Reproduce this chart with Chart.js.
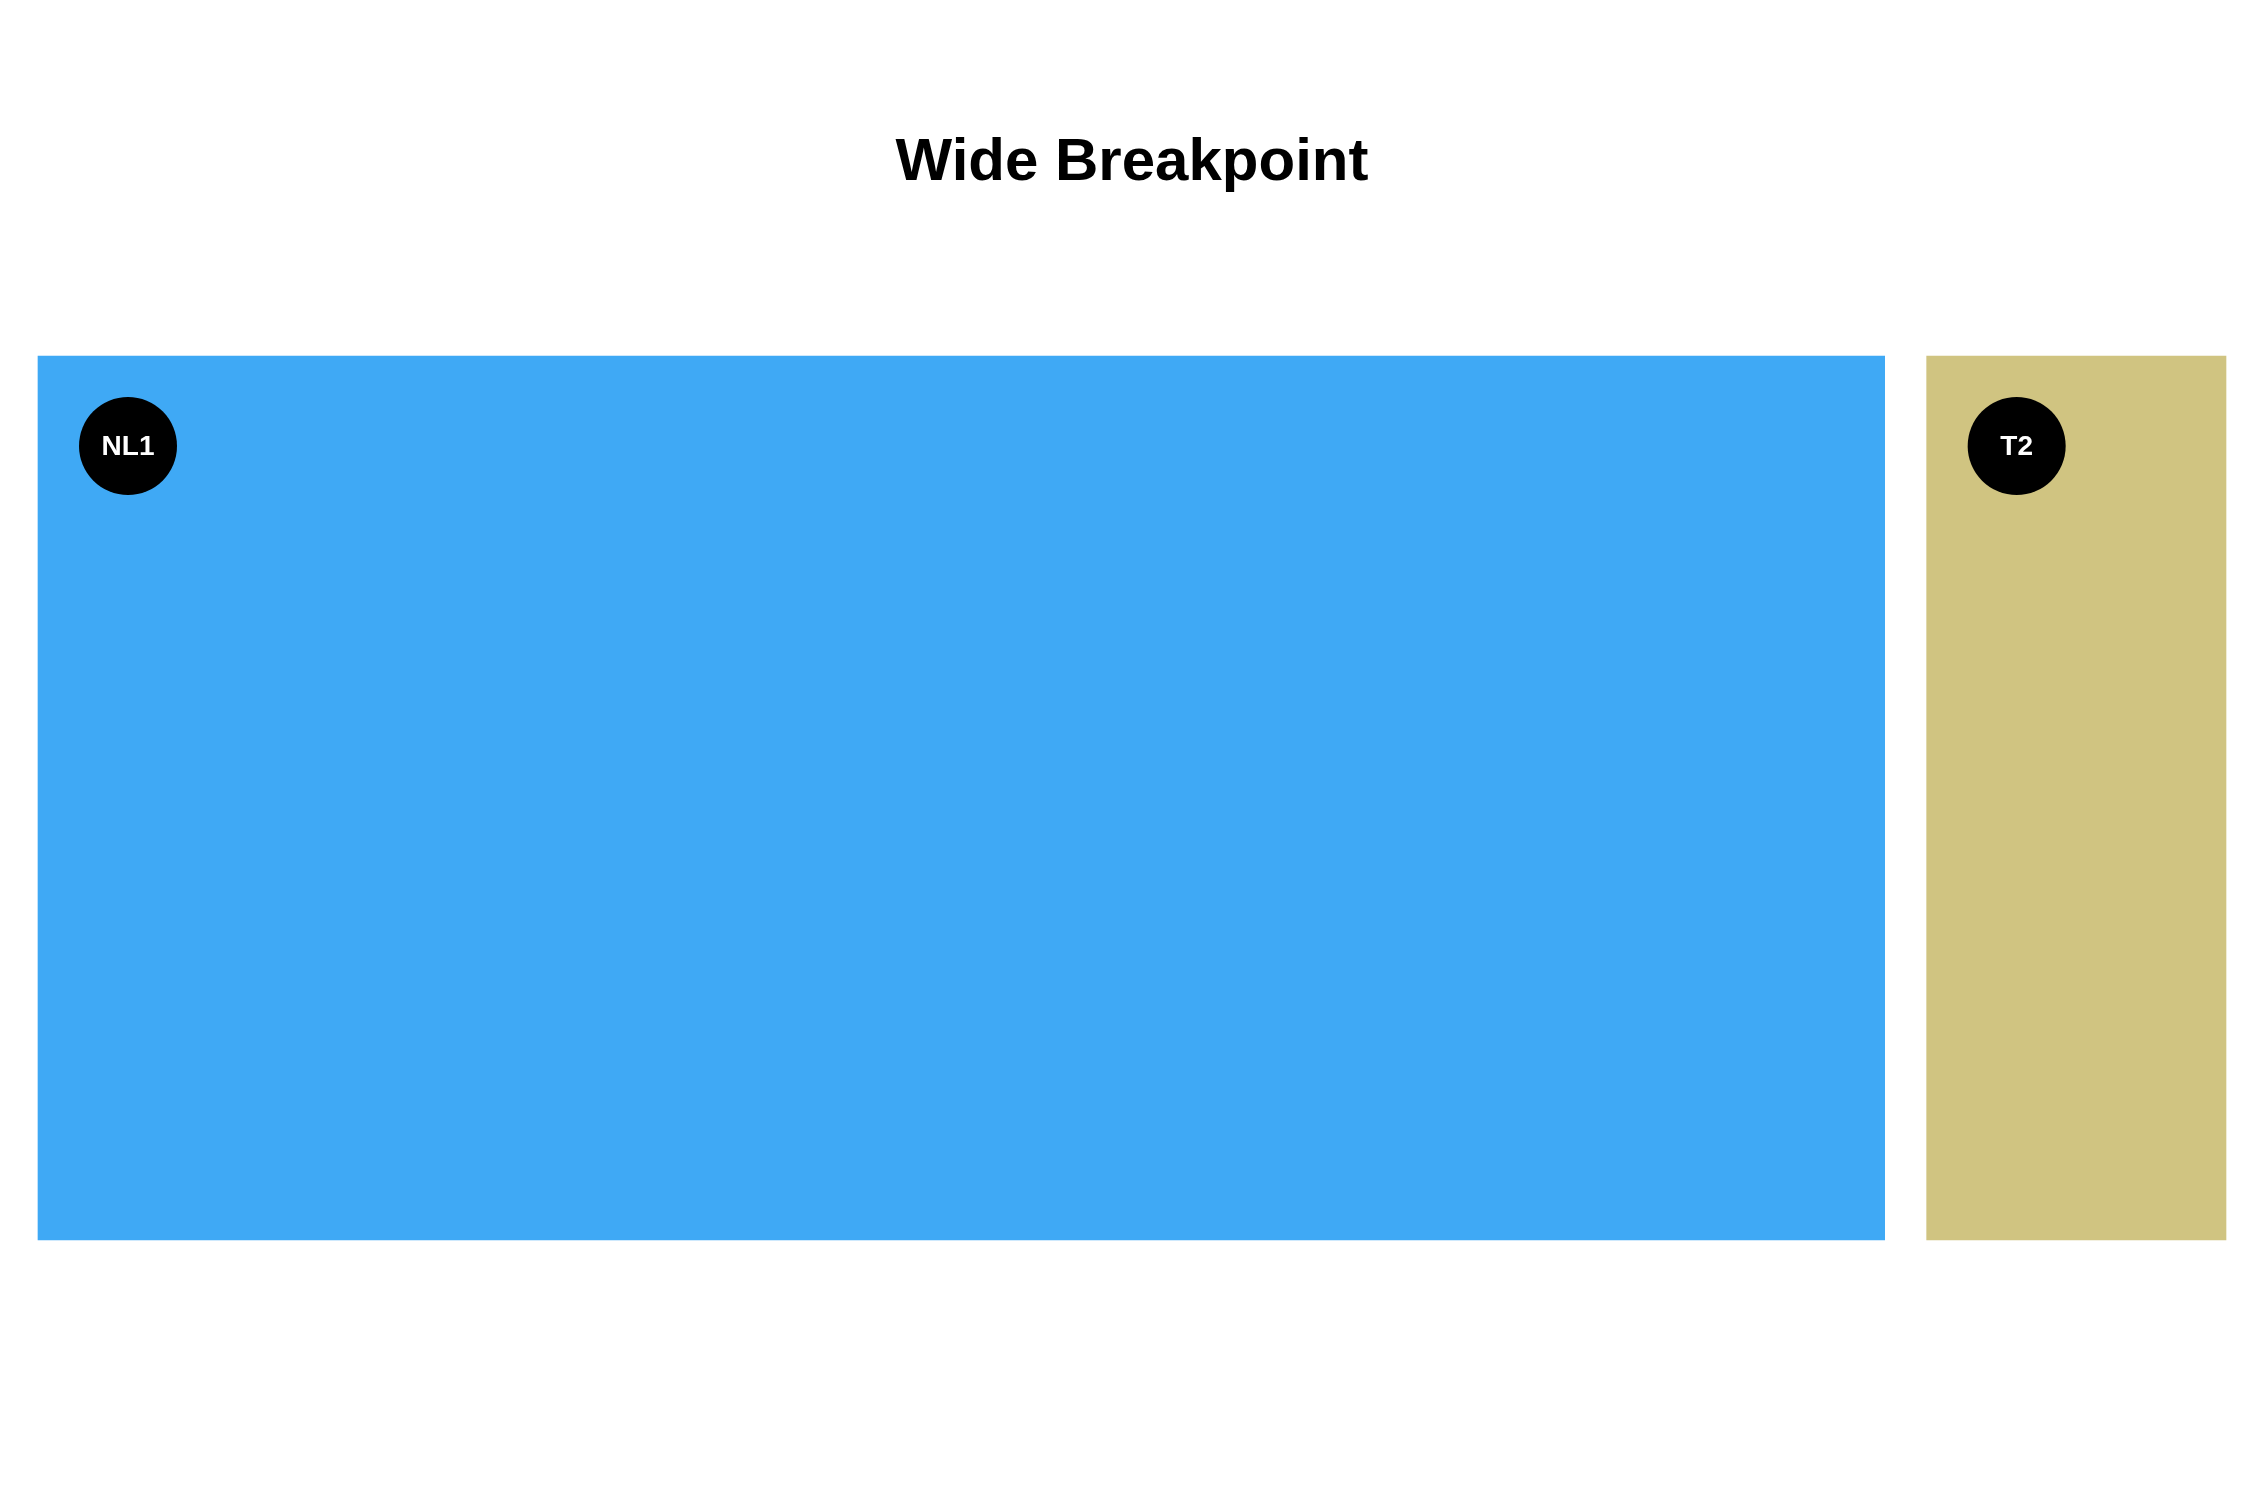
<!DOCTYPE html>
<html>
<head>
<meta charset="utf-8">
<script src="https://cdn.jsdelivr.net/npm/chart.js@4/dist/chart.umd.min.js"></script>
<style>html,body{margin:0;background:#fff}canvas{display:block}</style>
</head>
<body>
<canvas id="c" width="2264" height="1500"></canvas>
<script>
// Data
const categories = ['Wide'];
const seriesNames = ['NL1', 'T2'];
const seriesValues = [83, 15];
const seriesColors = ['#3FA9F5', '#D0C481'];

const GAP = 21; // white border, half of gap between blocks

// badge circles in the top-left corner of each block
const badges = {
  id: 'badges',
  afterDatasetsDraw(chart){
    const ctx = chart.ctx;
    chart.data.datasets.forEach((ds, i) => {
      const el = chart.getDatasetMeta(i).data[0];
      if(!el) return;
      const left = Math.min(el.x, el.base) + GAP;
      const top = el.y - el.height / 2 + GAP;
      const cx = left + 90, cy = top + 90;
      ctx.save();
      ctx.beginPath(); ctx.arc(cx, cy, 49, 0, Math.PI * 2);
      ctx.fillStyle = '#000'; ctx.fill();
      ctx.fillStyle = '#fff';
      ctx.font = 'bold 28px "Liberation Sans", Arial, sans-serif';
      ctx.textAlign = 'center'; ctx.textBaseline = 'middle';
      ctx.fillText(ds.label, cx, cy + 1);
      ctx.restore();
    });
  }
};

new Chart(document.getElementById('c'), {
  type: 'bar',
  data: {
    labels: categories,
    datasets: seriesNames.map((n, i) => ({
      label: n,
      data: [seriesValues[i]],
      backgroundColor: seriesColors[i],
      borderColor: '#fff',
      borderWidth: GAP,
      borderSkipped: false,
      barPercentage: 1,
      categoryPercentage: 1
    }))
  },
  options: {
    indexAxis: 'y',
    responsive: false,
    animation: false,
    layout: {padding: {left: 17, right: 17, top: 0, bottom: 239}},
    scales: {
      x: {stacked: true, display: false, min: 0, max: seriesValues.reduce((a, b) => a + b, 0)},
      y: {stacked: true, display: false}
    },
    plugins: {
      legend: {display: false},
      tooltip: {enabled: false},
      title: {
        display: true,
        text: 'Wide Breakpoint',
        color: '#000',
        font: {family: '"Liberation Sans", Arial, sans-serif', size: 60, weight: 'bold', lineHeight: 1.2},
        padding: {top: 127, bottom: 136}
      }
    }
  },
  plugins: [badges]
});
</script>
</body>
</html>
